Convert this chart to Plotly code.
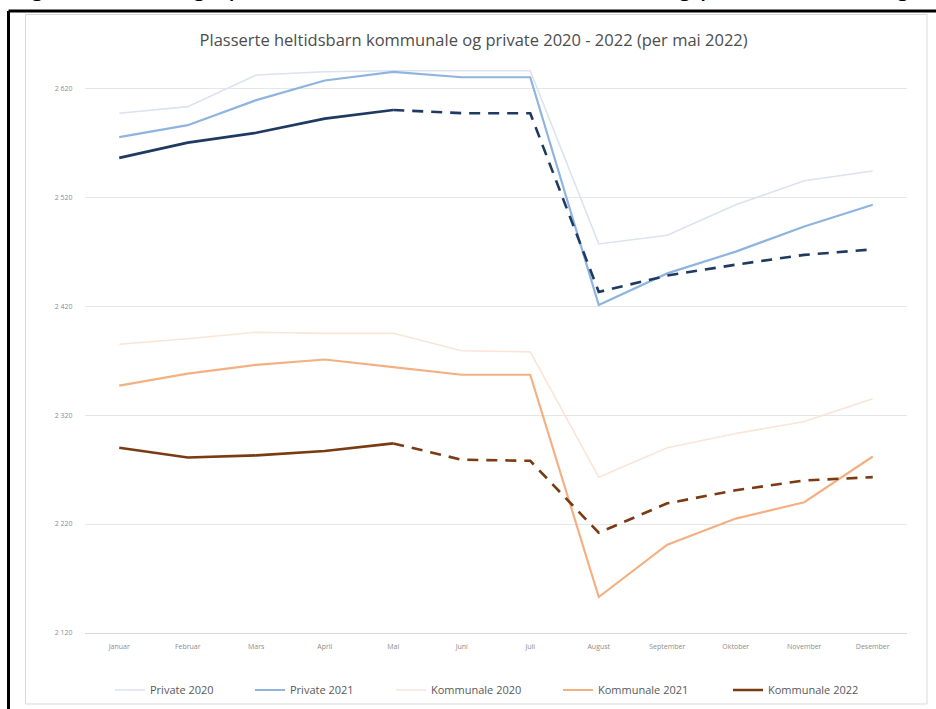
import plotly.graph_objects as go

# ---------------- data ----------------
months = ["Januar", "Februar", "Mars", "April", "Mai", "Juni", "Juli",
          "August", "September", "Oktober", "November", "Desember"]

private_2020 = [2597, 2603, 2632, 2635, 2636, 2636, 2636, 2477, 2485, 2513, 2535, 2544]
private_2021 = [2575, 2586, 2609, 2627, 2635, 2630, 2630, 2421, 2450, 2470, 2493, 2513]
private_2022 = [2556, 2570, 2579, 2592, 2600]                      # actual Jan-Mai
private_2022_prognose = [2600, 2597, 2597, 2433, 2448, 2458, 2467, 2472]  # Mai-Des

kommunale_2020 = [2385, 2390, 2396, 2395, 2395, 2379, 2378, 2263, 2290, 2303, 2314, 2335]
kommunale_2021 = [2347, 2358, 2366, 2371, 2364, 2357, 2357, 2153, 2201, 2225, 2240, 2282]
kommunale_2022 = [2290, 2281, 2283, 2287, 2294]                    # actual Jan-Mai
kommunale_2022_prognose = [2294, 2279, 2278, 2212, 2239, 2251, 2260, 2263]  # Mai-Des

y_ticks = [2120, 2220, 2320, 2420, 2520, 2620]

title_text = "Plasserte heltidsbarn kommunale og private 2020 - 2022 (per mai 2022)"
page_text = "Figur 3 Utvikling i plasserte heltidsbarn i kommunale og private barnehager"

# ---------------- layout geometry ----------------
W, H = 936, 709
ML, MR, MT, MB = 85, 29, 50, 76
PW, PH = W - ML - MR, H - MT - MB


def px(x):
    return (x - ML) / PW


def py(y):
    return (H - MB - y) / PH


fig = go.Figure()

fig.add_trace(go.Scatter(x=months, y=private_2020, mode="lines", name="Private 2020",
                         legend="legend", line=dict(color="#dae3ef", width=1.6)))
fig.add_trace(go.Scatter(x=months, y=private_2021, mode="lines", name="Private 2021",
                         legend="legend2", line=dict(color="#8fb4e0", width=2.2)))
fig.add_trace(go.Scatter(x=months, y=kommunale_2020, mode="lines", name="Kommunale 2020",
                         legend="legend3", line=dict(color="#fbe4d8", width=1.6)))
fig.add_trace(go.Scatter(x=months, y=kommunale_2021, mode="lines", name="Kommunale 2021",
                         legend="legend4", line=dict(color="#f3b183", width=2.2)))
fig.add_trace(go.Scatter(x=months[:5], y=kommunale_2022, mode="lines", name="Kommunale 2022",
                         legend="legend5", line=dict(color="#7a3a12", width=2.6)))
fig.add_trace(go.Scatter(x=months[4:], y=kommunale_2022_prognose, mode="lines",
                         showlegend=False, line=dict(color="#7a3a12", width=2.6, dash="11px,8px")))
fig.add_trace(go.Scatter(x=months[:5], y=private_2022, mode="lines", name="Private 2022",
                         showlegend=False, line=dict(color="#1f3a60", width=2.6)))
fig.add_trace(go.Scatter(x=months[4:], y=private_2022_prognose, mode="lines",
                         showlegend=False, line=dict(color="#1f3a60", width=2.6, dash="11px,8px")))

shapes = [
    # light chart border
    dict(type="rect", xref="paper", yref="paper", x0=px(25.5), x1=px(927), y0=py(14.5), y1=py(704),
         line=dict(color="#d9d9d9", width=1), layer="below"),
    # black page frame
    dict(type="line", xref="paper", yref="paper", x0=px(8.5), x1=px(940), y0=py(11), y1=py(11),
         line=dict(color="black", width=3)),
    dict(type="line", xref="paper", yref="paper", x0=px(8.5), x1=px(8.5), y0=py(11), y1=py(715),
         line=dict(color="black", width=3)),
]

legend_text_starts = [154, 294, 435, 602, 772]
legend_keys = ["legend", "legend2", "legend3", "legend4", "legend5"]
legend_layout = {}
for key, tx in zip(legend_keys, legend_text_starts):
    legend_layout[key] = dict(orientation="h", xref="container", yref="container",
                              x=(tx - 44) / W, xanchor="left",
                              y=1 - 690 / H, yanchor="middle",
                              font=dict(size=11, color="#595959"),
                              bgcolor="rgba(0,0,0,0)")

fig.update_layout(
    width=W, height=H,
    margin=dict(l=ML, r=MR, t=MT, b=MB),
    paper_bgcolor="white", plot_bgcolor="white",
    separators=", ",
    font=dict(family="Open Sans, sans-serif", color="#8c8c8c"),
    title=dict(text=title_text, x=0.506, xanchor="center", xref="container",
               y=1 - 40 / H, yanchor="middle", yref="container",
               font=dict(size=16.5, color="#4d4d4d", family="Open Sans, sans-serif")),
    xaxis=dict(type="category", showgrid=False, showline=True, linecolor="#d9d9d9", linewidth=1,
               ticks="outside", ticklen=7, tickcolor="rgba(0,0,0,0)",
               tickfont=dict(size=7, color="#8c8c8c"), range=[-0.5, 11.5], zeroline=False),
    yaxis=dict(range=[2120, 2655], tickvals=y_ticks, tickformat=",d", showgrid=True,
               gridcolor="#e6e6e6", gridwidth=1, zeroline=False, showline=False,
               ticks="outside", ticklen=10, tickcolor="rgba(0,0,0,0)",
               tickfont=dict(size=7, color="#8c8c8c")),
    shapes=shapes,
    annotations=[dict(text=page_text, xref="paper", yref="paper", x=px(470), y=py(3),
                      xanchor="center", yanchor="bottom", showarrow=False,
                      font=dict(size=28, color="black", family="Liberation Sans, sans-serif"))],
    **legend_layout,
)

fig.write_html(
    "out.html",
    config={"displayModeBar": False},
    post_script="document.body.style.margin='0';document.body.style.padding='0';"
                "document.documentElement.style.overflow='hidden';",
)
